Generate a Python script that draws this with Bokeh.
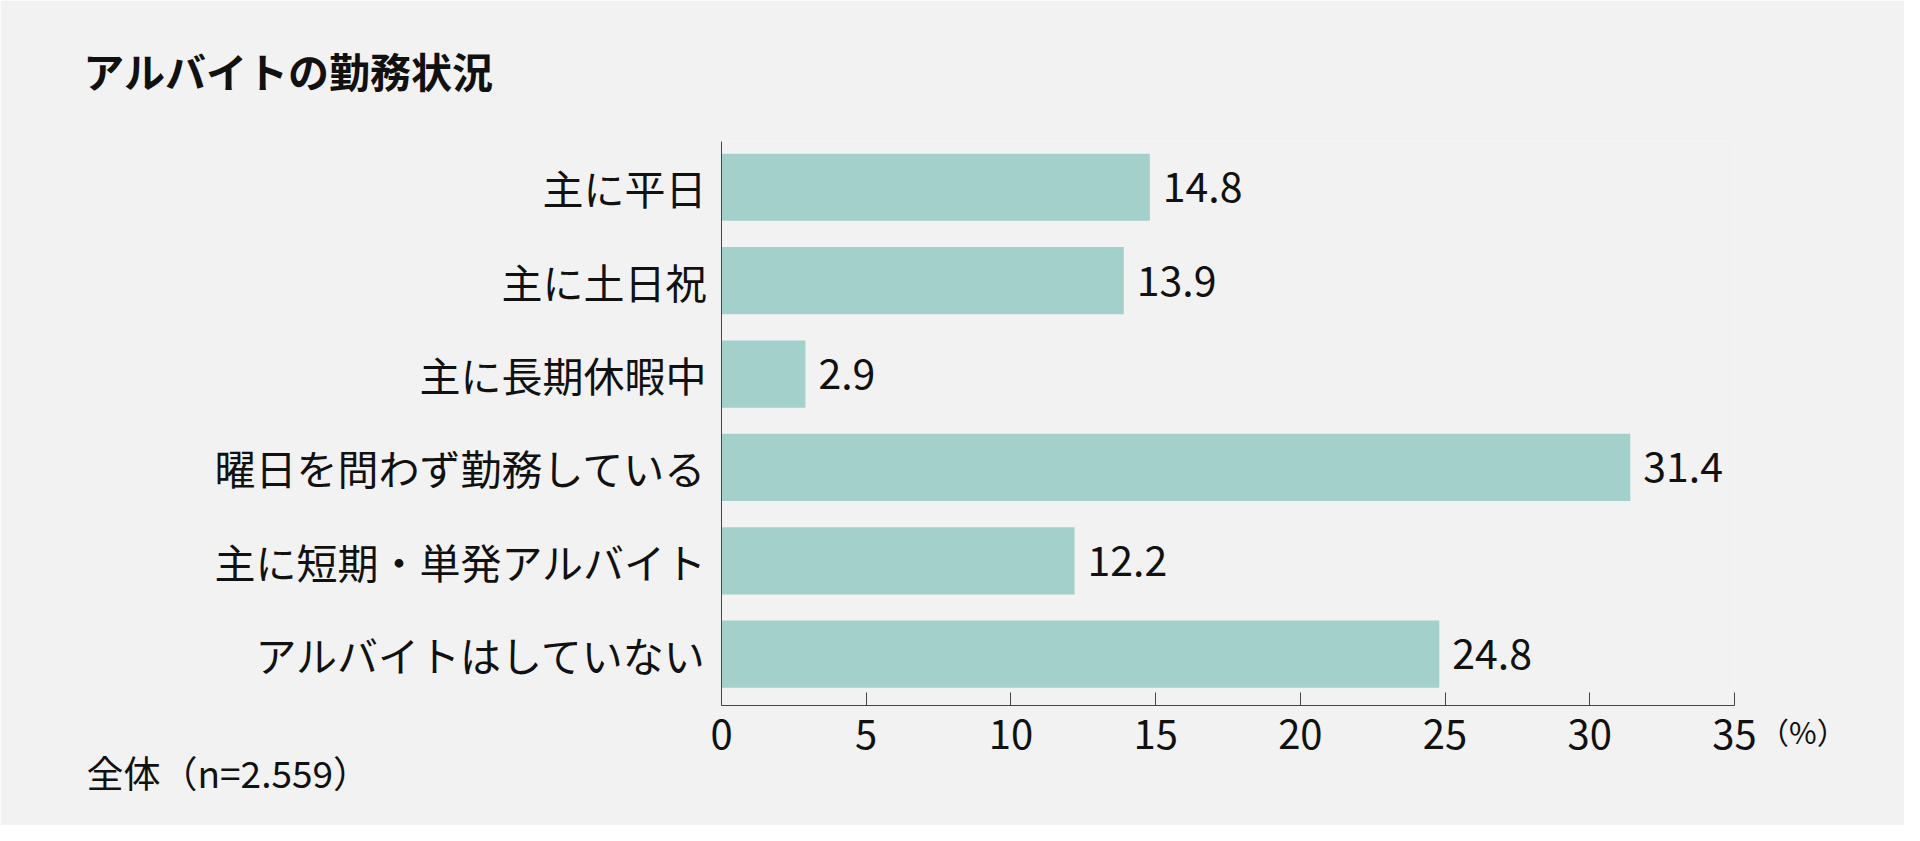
from bokeh.plotting import figure
from bokeh.models import Range1d, FixedTicker, Label, ColumnDataSource
from bokeh.core.properties import value
from bokeh.embed import file_html
from bokeh.resources import INLINE

# データ
categories = ['主に平日', '主に土日祝', '主に長期休暇中', '曜日を問わず勤務している',
              '主に短期・単発アルバイト', 'アルバイトはしていない']
values = [14.8, 13.9, 2.9, 31.4, 12.2, 24.8]
x_ticks = [0, 5, 10, 15, 20, 25, 30, 35]
title_text = 'アルバイトの勤務状況'
note_text = '全体（n=2.559）'
unit_text = '（%）'

FONT = 'Noto Sans CJK JP'
BG = '#f2f2f2'
BAR = '#a4d0cc'
INK = '#111111'

idx = list(range(len(categories)))
src = ColumnDataSource(data=dict(y=idx, v=values,
                                 lbl=['{:.1f}'.format(v) for v in values]))

p = figure(width=1904, height=825, output_backend='svg', toolbar_location=None,
           x_range=Range1d(0, 35), y_range=Range1d(5.55, -0.49),
           min_border_left=721, min_border_right=170,
           min_border_top=141, min_border_bottom=120)
p.background_fill_color = BG
p.border_fill_color = BG
p.outline_line_color = None
p.xgrid.visible = False
p.ygrid.visible = False

# 棒
p.hbar(y='y', right='v', left=0, height=0.72, source=src,
       fill_color=BAR, line_color=None)

# 数値ラベル
p.text(x='v', y='y', text='lbl', source=src, x_offset=13,
       text_baseline='middle', text_align='left',
       text_font=value(FONT), text_font_size='41px', text_color=INK)

# x軸
xa = p.xaxis[0]
xa.ticker = FixedTicker(ticks=x_ticks)
xa.minor_tick_line_color = None
xa.major_tick_in = 13
xa.major_tick_out = 0
xa.axis_line_color = '#444444'
xa.major_tick_line_color = '#444444'
xa.major_label_text_font = FONT
xa.major_label_text_font_size = '40px'
xa.major_label_text_color = INK
xa.major_label_standoff = 14

# y軸（項目名）
ya = p.yaxis[0]
ya.ticker = FixedTicker(ticks=idx)
ya.major_label_overrides = {i: c for i, c in zip(idx, categories)}
ya.minor_tick_line_color = None
ya.major_tick_in = 0
ya.major_tick_out = 0
ya.axis_line_color = '#444444'
ya.major_label_text_font = FONT
ya.major_label_text_font_size = '41px'
ya.major_label_text_color = INK
ya.major_label_standoff = 15

# タイトル・注記（枠外に描くため側面パネルに置く）
p.add_layout(Label(x=-22.05, y=-1.261, text=title_text, text_font=FONT,
                   text_font_size='41px', text_font_style='bold',
                   text_baseline='middle', text_color=INK), 'above')
p.add_layout(Label(x=-21.94, y=6.267, text=note_text, text_font=FONT,
                   text_font_size='37px', text_baseline='middle',
                   text_color=INK), 'above')
p.add_layout(Label(x=35.85, y=5.828, text=unit_text, text_font=FONT,
                   text_font_size='30px', text_baseline='middle',
                   text_color=INK), 'right')

open("out.html", "w").write(file_html(p, INLINE))
